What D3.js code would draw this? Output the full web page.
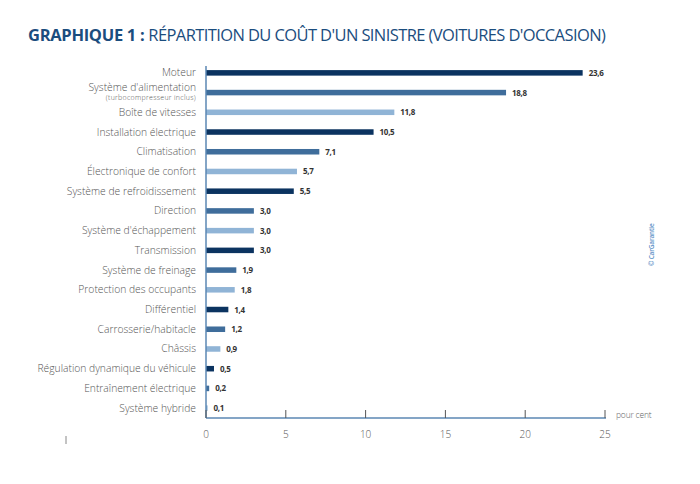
<!DOCTYPE html>
<html lang="fr">
<head>
<meta charset="utf-8">
<title>Graphique 1</title>
<script src="https://cdn.jsdelivr.net/npm/d3@7"></script>
<style>
  body { margin: 0; background: #fff; }
  svg text { font-family: "Open Sans", sans-serif; }
</style>
</head>
<body>
<div id="chart"></div>
<script>
// categories and values (pour cent)
var categories = [
  "Moteur", "Système d'alimentation", "Boîte de vitesses", "Installation électrique",
  "Climatisation", "Électronique de confort", "Système de refroidissement", "Direction",
  "Système d'échappement", "Transmission", "Système de freinage", "Protection des occupants",
  "Différentiel", "Carrosserie/habitacle", "Châssis", "Régulation dynamique du véhicule",
  "Entraînement électrique", "Système hybride"
];
var values = [23.6, 18.8, 11.8, 10.5, 7.1, 5.7, 5.5, 3.0, 3.0, 3.0, 1.9, 1.8, 1.4, 1.2, 0.9, 0.5, 0.2, 0.1];
var xTicks = [0, 5, 10, 15, 20, 25];
var palette = ["#0b3360", "#3f6d9b", "#90b4d6"];

var w = 700, h = 484;
var svg = d3.select("#chart").append("svg").attr("width", w).attr("height", h);

// title
var title = svg.append("text").attr("x", 28).attr("y", 41)
  .style("font-size", "16.5px").style("fill", "#1b4d7e");
title.append("tspan").text("GRAPHIQUE 1 : ").style("font-weight", "bold").style("letter-spacing", "-0.3px");
title.append("tspan").text("RÉPARTITION DU COÛT D'UN SINISTRE (VOITURES D'OCCASION)")
  .style("letter-spacing", "-0.6px");

var xScale = d3.scaleLinear().domain([0, 25]).range([206, 605]);
var yScale = d3.scaleBand().domain(categories).range([63, 418]).paddingInner(0.72).paddingOuter(0.36);

// bars
svg.selectAll("rect.bar").data(values).enter().append("rect")
  .attr("class", "bar")
  .attr("x", xScale(0))
  .attr("y", function(d, i) { return yScale(categories[i]); })
  .attr("width", function(d) { return xScale(d) - xScale(0); })
  .attr("height", yScale.bandwidth())
  .attr("fill", function(d, i) { return palette[i % 3]; });

// value labels
svg.selectAll("text.val").data(values).enter().append("text")
  .attr("class", "val")
  .attr("x", function(d) { return xScale(d) + 6; })
  .attr("y", function(d, i) { return yScale(categories[i]) + yScale.bandwidth() / 2 + 3; })
  .style("font-size", "8px").style("font-weight", "bold").style("fill", "#333")
  .style("letter-spacing", "-0.3px")
  .text(function(d) { return d.toFixed(1).replace(".", ","); });

// category labels
svg.selectAll("text.cat").data(categories).enter().append("text")
  .attr("class", "cat")
  .attr("x", 196)
  .attr("y", function(d, i) {
    var c = yScale(d) + yScale.bandwidth() / 2 + 3.5;
    return i == 1 ? c - 5 : c;
  })
  .attr("text-anchor", "end")
  .style("font-size", "10.3px").style("font-weight", "300").style("fill", "#555")
  .style("letter-spacing", "0px")
  .text(function(d) { return d; });

svg.append("text").attr("x", 196).attr("y", yScale(categories[1]) + yScale.bandwidth() / 2 + 7.5)
  .attr("text-anchor", "end")
  .style("font-size", "7px").style("font-weight", "300").style("fill", "#555").style("letter-spacing", "0.3px")
  .text("(turbocompresseur inclus)");

// axes
var axisColor = "#5b87b3";
svg.append("line").attr("x1", 206).attr("x2", 206).attr("y1", 66).attr("y2", 418)
  .attr("stroke", axisColor).attr("stroke-width", 1.5);
svg.append("line").attr("x1", 206).attr("x2", 606).attr("y1", 418).attr("y2", 418)
  .attr("stroke", axisColor).attr("stroke-width", 1.5);

svg.selectAll("line.tick").data(xTicks).enter().append("line")
  .attr("class", "tick")
  .attr("x1", function(d) { return xScale(d); })
  .attr("x2", function(d) { return xScale(d); })
  .attr("y1", 418).attr("y2", 410)
  .attr("stroke", "#555").attr("stroke-width", 1);

svg.selectAll("text.tickl").data(xTicks).enter().append("text")
  .attr("class", "tickl")
  .attr("x", function(d) { return xScale(d); })
  .attr("y", 438)
  .attr("text-anchor", "middle")
  .style("font-size", "10px").style("font-weight", "300").style("fill", "#555")
  .text(function(d) { return d; });

svg.append("text").attr("x", 616).attr("y", 418)
  .style("font-size", "8.5px").style("font-weight", "300").style("fill", "#666").style("letter-spacing", "-0.2px")
  .text("pour cent");

// small mark bottom left
svg.append("line").attr("x1", 66).attr("x2", 66).attr("y1", 436).attr("y2", 444)
  .attr("stroke", "#888").attr("stroke-width", 1);

// copyright
svg.append("text")
  .attr("transform", "translate(654,266) rotate(-90)")
  .style("font-size", "6.5px").style("font-weight", "600").style("fill", "#5b8fc6")
  .style("letter-spacing", "-0.2px")
  .text("© CarGarantie");
</script>
</body>
</html>
